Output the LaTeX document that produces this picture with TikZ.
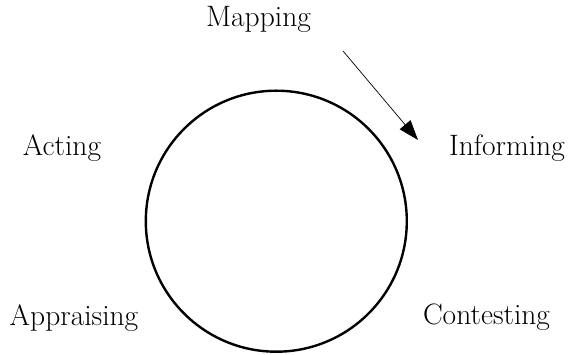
\documentclass[tikz,border=0pt]{standalone}
\usepackage{fontspec}
\usepackage{tikz}
\usetikzlibrary{arrows.meta,positioning,calc}

\begin{document}
\begin{tikzpicture}[x=1pt, y=1pt,
    stage/.style={anchor=base, inner sep=0pt, font=\fontsize{29.5}{34}\selectfont},
    cyclering/.style={circle, draw, line width=2.4pt, minimum size=261pt, inner sep=0pt},
    >={Triangle[length=20pt, width=14pt]}]
  \useasboundingbox (0,0) rectangle (568,355);

  % 円
  \node[cyclering] (cycle) at (276.3,133.8) {};

  % ラベルの配置
  \foreach \name/\x/\y in {Mapping/258.5/328, Acting/62/199.5, Informing/507/199,
                           Appraising/74/29, Contesting/486.5/30} {
    \node[stage] (\name) at (\x,\y) {\name};
  }

  % 矢印
  \coordinate (arrowtail) at (343,304);
  \coordinate (arrowtip) at (418,215);
  \draw[->, line width=0.7pt] (arrowtail) -- (arrowtip);
\end{tikzpicture}
\end{document}
